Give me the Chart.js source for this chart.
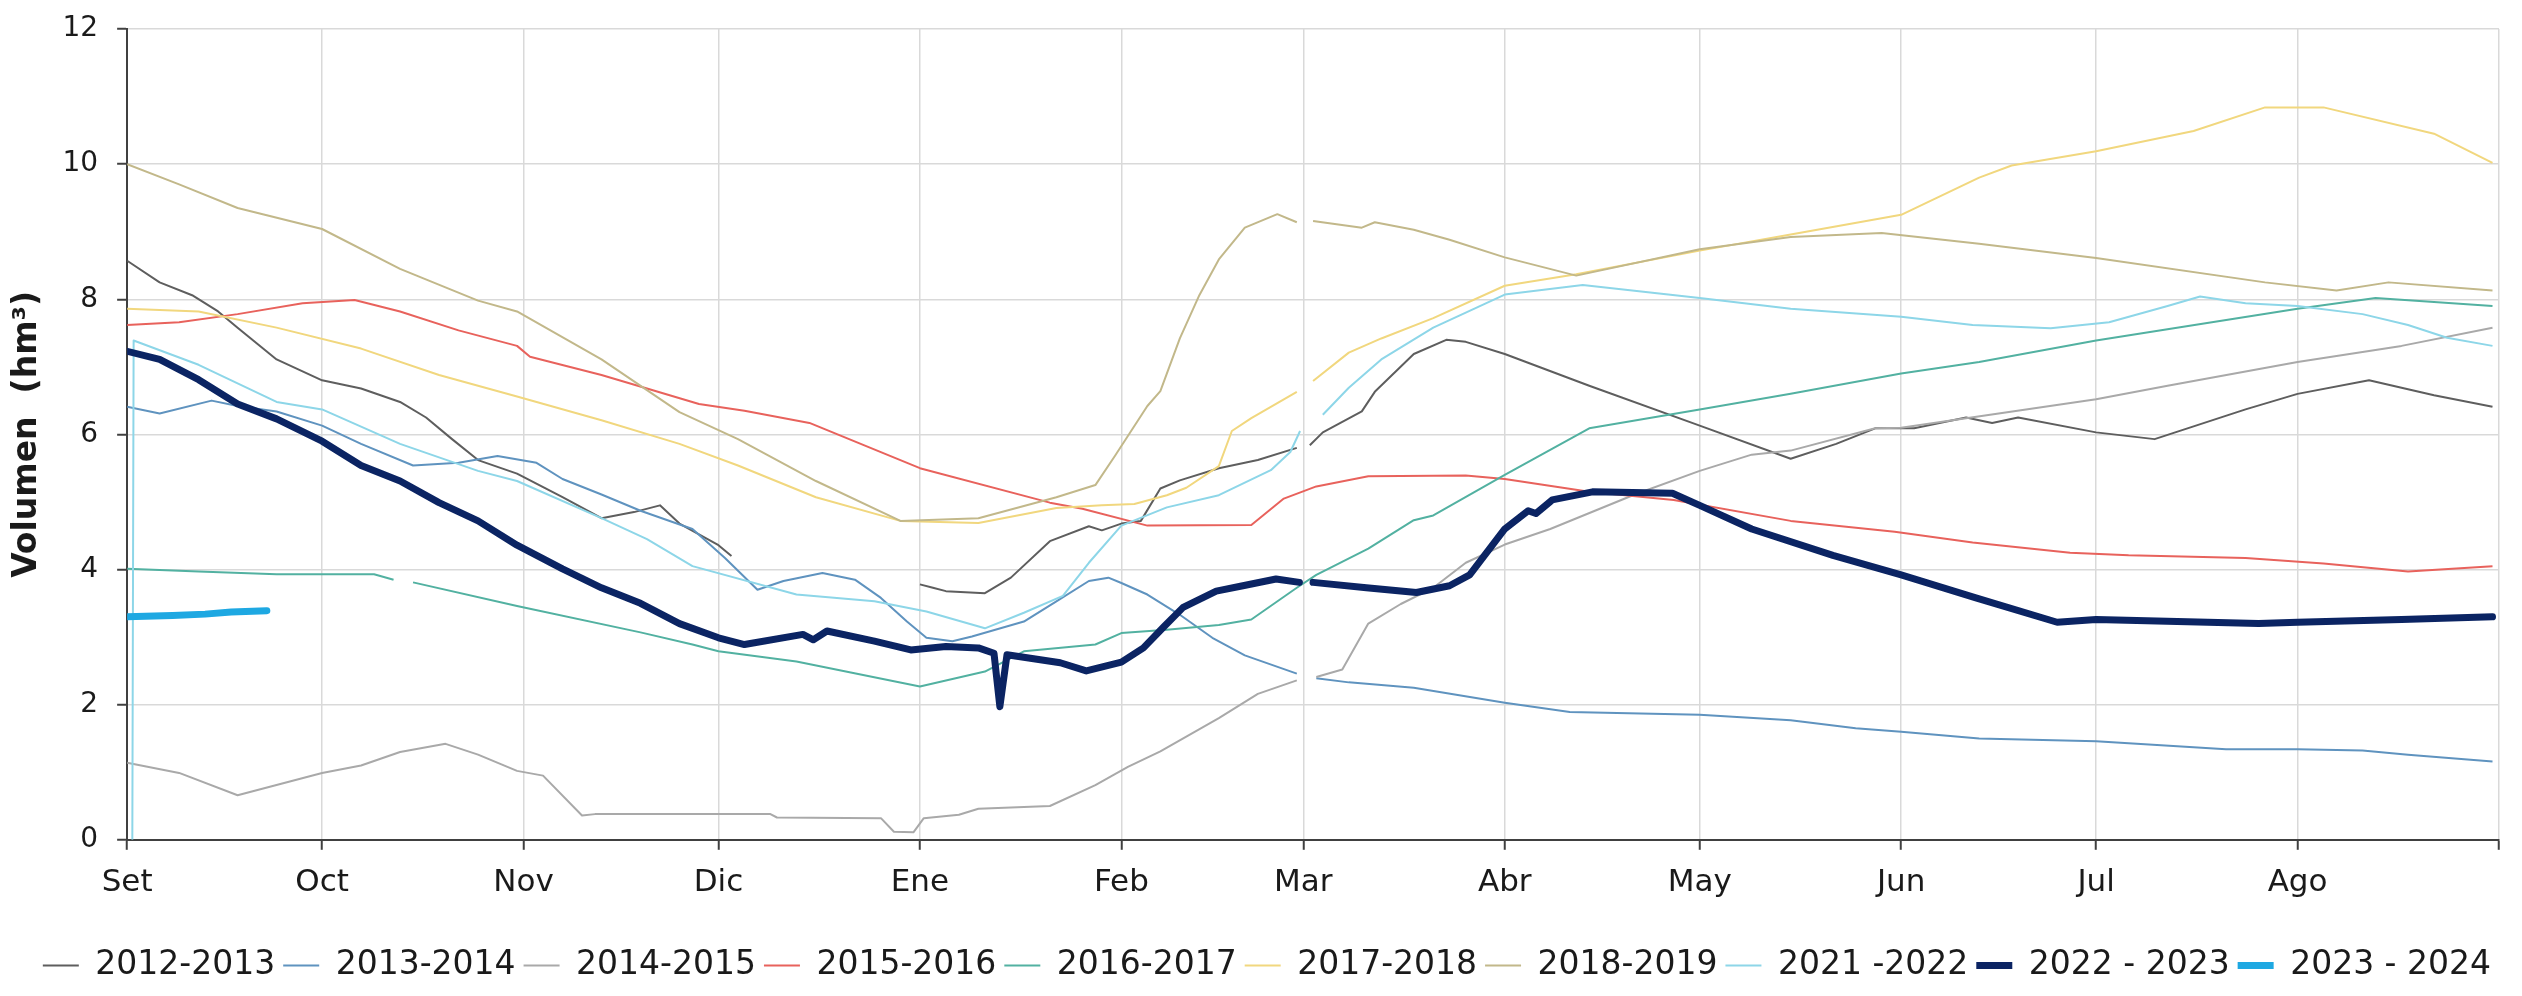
<!DOCTYPE html>
<html lang="es">
<head>
<meta charset="UTF-8">
<title>Volumen embalse por temporada</title>
<script src="https://cdn.jsdelivr.net/npm/chart.js"></script>
<style>
  body { margin: 0; background: #fff; }
  #grafico { display: block; }
</style>
</head>
<body>
<canvas id="grafico" width="2522" height="996"></canvas>
<script>
// eje x: dias contados desde el 1 de setiembre
const meses = ['Set', 'Oct', 'Nov', 'Dic', 'Ene', 'Feb', 'Mar', 'Abr', 'May', 'Jun', 'Jul', 'Ago', ''];
const inicioMes = [0, 30, 61, 91, 122, 153, 181, 212, 242, 273, 303, 334, 365];

const temporadas = ['2012-2013', '2013-2014', '2014-2015', '2015-2016', '2016-2017',
  '2017-2018', '2018-2019', '2021 -2022', '2022 - 2023', '2023 - 2024'];

// [dia, volumen hm3]; null = sin dato
const v2012 = [[0,8.57],[5,8.25],[10,8.06],[14,7.82],[17,7.58],[23,7.11],[30,6.8],[36,6.68],[42,6.48],[46,6.25],
  [50,5.93],[54,5.62],[60,5.42],[67,5.07],[73,4.76],[78,4.85],[82,4.95],[85,4.68],[91,4.36],[93,4.2],[100,null],
  [122,3.78],[124,3.73],[126,3.68],[132,3.65],[136,3.88],[142,4.42],[148,4.64],[150,4.58],[153,4.68],[156,4.72],
  [159,5.2],[162,5.32],[168,5.5],[174,5.62],[180,5.8],[181,null],[182,5.84],[184,6.03],[190,6.34],[192,6.63],
  [198,7.19],[203,7.4],[206,7.37],[212,7.19],[225,6.72],[242,6.13],[256,5.64],[263,5.86],[269,6.09],[275,6.09],
  [283,6.25],[287,6.17],[291,6.25],[303,6.03],[312,5.93],[326,6.37],[334,6.6],[345,6.8],[355,6.58],[364,6.41]];

const v2013 = [[0,6.41],[5,6.31],[13,6.5],[17,6.42],[23,6.34],[30,6.13],[36,5.86],[44,5.54],[51,5.58],[57,5.68],
  [63,5.58],[67,5.34],[73,5.11],[79,4.87],[87,4.6],[92,4.17],[97,3.7],[101,3.83],[107,3.95],[112,3.85],[116,3.58],
  [120,3.23],[123,2.99],[127,2.94],[130,3.01],[138,3.23],[143,3.53],[148,3.83],[151,3.88],[153,3.8],[157,3.63],
  [162,3.33],[167,2.99],[172,2.73],[180,2.46],[181,null],[183,2.39],[188,2.33],[198,2.25],[212,2.03],[222,1.89],
  [242,1.85],[256,1.77],[266,1.65],[273,1.6],[285,1.5],[303,1.46],[323,1.34],[334,1.34],[344,1.32],[351,1.26],[364,1.16]];

const v2014 = [[0,1.14],[8,0.99],[17,0.66],[30,0.99],[36,1.1],[42,1.3],[49,1.42],[54,1.26],[60,1.02],[64,0.95],
  [70,0.36],[72,0.38],[85,0.38],[99,0.38],[100,0.33],[116,0.32],[118,0.12],[121,0.11],[122.6,0.32],[128,0.37],
  [131,0.46],[142,0.5],[149,0.81],[154,1.08],[159,1.31],[168,1.8],[174,2.16],[180,2.36],[181,null],[183,2.41],
  [187,2.52],[191,3.2],[196,3.49],[201,3.73],[206,4.1],[212,4.37],[219,4.6],[232,5.11],[242,5.46],[250,5.7],
  [256,5.76],[269,6.09],[273,6.1],[303,6.52],[314,6.72],[334,7.07],[350,7.31],[364,7.58]];

const v2015 = [[0,7.62],[8,7.66],[17,7.78],[27,7.94],[35,7.99],[42,7.82],[51,7.54],[60,7.31],[62,7.15],[73,6.88],
  [80,6.68],[88,6.45],[95,6.35],[105,6.17],[122,5.5],[142,4.99],[147,4.9],[157,4.65],[173,4.66],[178,5.05],
  [183,5.23],[191,5.38],[206,5.39],[212,5.34],[225,5.15],[238,5.03],[256,4.72],[272,4.56],[284,4.4],[299,4.25],
  [308,4.21],[326,4.17],[338,4.09],[351,3.97],[364,4.05]];

const v2016 = [[0,4.01],[11,3.97],[23,3.93],[38,3.93],[41,3.85],[42.5,null],[44,3.81],[60,3.46],[79,3.07],[87,2.89],
  [91,2.79],[103,2.64],[122,2.27],[132,2.49],[138,2.79],[149,2.89],[153,3.06],[160,3.11],[168,3.18],[173,3.26],
  [180,3.73],[183,3.92],[191,4.31],[198,4.73],[201,4.8],[212,5.4],[225,6.09],[242,6.37],[256,6.6],[273,6.9],
  [285,7.07],[303,7.39],[334,7.86],[346,8.02],[364,7.9]];

const v2017 = [[0,7.86],[11,7.82],[23,7.58],[36,7.27],[48,6.88],[60,6.56],[73,6.21],[85,5.86],[94,5.54],[106,5.07],
  [119,4.72],[131,4.69],[143,4.91],[150,4.95],[155,4.97],[160,5.1],[163,5.21],[168,5.53],[170,6.05],[173,6.24],
  [180,6.63],[181,null],[182.5,6.79],[188,7.21],[193,7.42],[201,7.72],[212,8.2],[223,8.37],[242,8.72],[256,8.96],
  [273,9.25],[285,9.8],[290,9.98],[303,10.19],[318,10.49],[329,10.84],[338,10.84],[355,10.45],[364,10.02]];

const v2018 = [[0,10.0],[8,9.7],[17,9.35],[30,9.04],[42,8.45],[54,7.98],[60,7.82],[73,7.11],[85,6.33],[94,5.93],
  [106,5.31],[119,4.72],[131,4.76],[143,5.07],[149,5.25],[152,5.68],[157,6.42],[159,6.64],[162,7.42],[165,8.06],
  [168,8.59],[172,9.06],[177,9.26],[180,9.14],[181,null],[182.5,9.16],[190,9.06],[192,9.14],[198,9.03],[203.5,8.88],
  [212,8.62],[223,8.35],[242,8.74],[256,8.92],[270,8.98],[285,8.82],[303,8.61],[329,8.25],[340,8.13],[348,8.25],[364,8.13]];

const v2021 = [[0.8,0],[1,7.39],[11,7.03],[23,6.48],[30,6.37],[42,5.86],[54,5.46],[60,5.31],[73,4.76],[80,4.45],
  [87,4.05],[103,3.63],[115,3.53],[123,3.38],[132,3.13],[138,3.36],[144,3.61],[148,4.1],[153,4.65],[160,4.92],
  [168,5.1],[176,5.47],[179,5.74],[180.5,6.05],[181,null],[184,6.29],[188,6.69],[193,7.11],[201,7.58],[212,8.07],
  [224,8.21],[242,8.02],[256,7.86],[273,7.74],[284,7.62],[296,7.57],[305,7.66],[314,7.9],[319,8.04],[326,7.94],
  [334,7.9],[344,7.78],[351,7.62],[357,7.43],[364,7.31]];

const v2022 = [[0,7.23],[5,7.11],[11,6.81],[17,6.45],[23,6.23],[30,5.9],[36,5.54],[42,5.31],[48,4.99],[54,4.72],
  [60,4.36],[67,4.01],[73,3.73],[79,3.5],[85,3.2],[91,2.99],[95,2.89],[104,3.04],[105.6,2.96],[107.7,3.09],[115,2.94],
  [120.6,2.81],[126,2.86],[131,2.84],[133.4,2.76],[134.3,1.97],[135.4,2.74],[143.6,2.62],[147.6,2.5],[153,2.63],
  [156.4,2.84],[159.5,3.15],[162.5,3.44],[167.6,3.68],[171.7,3.76],[176.8,3.86],[180.4,3.81],[181,null],[182.5,3.81],
  [190.7,3.73],[198.4,3.66],[203.5,3.76],[206.6,3.92],[212,4.6],[215.6,4.87],[216.8,4.83],[219.3,5.03],[225.5,5.15],
  [237.8,5.13],[242,4.95],[250,4.6],[262.5,4.21],[273,3.92],[284.5,3.58],[297,3.22],[303,3.26],[328,3.2],[334,3.22],
  [350,3.26],[364,3.3]];

const v2023 = [[0,3.3],[7,3.32],[12,3.34],[16,3.37],[21.5,3.39]];

const series = [v2012, v2013, v2014, v2015, v2016, v2017, v2018, v2021, v2022, v2023];
const colores = ['#5e5e5e', '#5f93bf', '#a9a9a9', '#e8625c', '#52b1a1', '#f1d77e', '#c2b88a', '#8dd6e8', '#0b2463', '#1ea8e2'];
const grosor = [2, 2, 2, 2, 2, 2, 2, 2, 7, 7];

const fuente = 'DejaVu Sans';

const datasets = series.map((s, i) => ({
  label: temporadas[i],
  data: s.map(p => ({ x: p[0], y: p[1] })),
  borderColor: colores[i],
  backgroundColor: colores[i],
  borderWidth: grosor[i],
  borderCapStyle: grosor[i] > 3 ? 'round' : 'butt',
  borderJoinStyle: 'round',
  pointRadius: 0,
  tension: 0,
  spanGaps: false,
  order: series.length - i   // las temporadas recientes se dibujan encima
}));

new Chart(document.getElementById('grafico'), {
  type: 'line',
  data: { datasets: datasets },
  options: {
    responsive: false,
    animation: false,
    layout: { padding: { left: 6, right: 23, top: 29, bottom: 4 } },
    plugins: {
      tooltip: { enabled: false },
      legend: {
        position: 'bottom',
        align: 'end',
        labels: {
          usePointStyle: true,
          pointStyle: 'line',
          pointStyleWidth: 36,
          padding: 8,
          color: '#1a1a1a',
          font: { family: fuente, size: 33 },
          sort: (a, b) => a.datasetIndex - b.datasetIndex
        }
      }
    },
    scales: {
      x: {
        type: 'linear',
        min: 0,
        max: 365,
        afterBuildTicks: (ax) => { ax.ticks = inicioMes.map(v => ({ value: v })); },
        afterFit: (sc) => { sc.height += 24; },
        ticks: {
          autoSkip: false,
          maxRotation: 0,
          padding: 15,
          color: '#1a1a1a',
          font: { family: fuente, size: 31 },
          callback: (v, i) => meses[i]
        },
        grid: { color: '#d9d9d9', lineWidth: 1.5, tickColor: '#404040', tickLength: 10, tickWidth: 2 },
        border: { color: '#404040', width: 2 }
      },
      y: {
        min: 0,
        max: 12,
        ticks: {
          stepSize: 2,
          padding: 19,
          color: '#1a1a1a',
          font: { family: fuente, size: 28, lineHeight: 0.2 }
        },
        title: {
          display: true,
          text: 'Volumen  (hm³)',
          color: '#1a1a1a',
          padding: { top: 4.5, bottom: 0 },
          font: { family: fuente, size: 33, weight: 'bold', lineHeight: 1 }
        },
        grid: { color: '#d9d9d9', lineWidth: 1.5, tickColor: '#404040', tickLength: 10, tickWidth: 2 },
        border: { color: '#404040', width: 2 }
      }
    }
  }
});
</script>
</body>
</html>
